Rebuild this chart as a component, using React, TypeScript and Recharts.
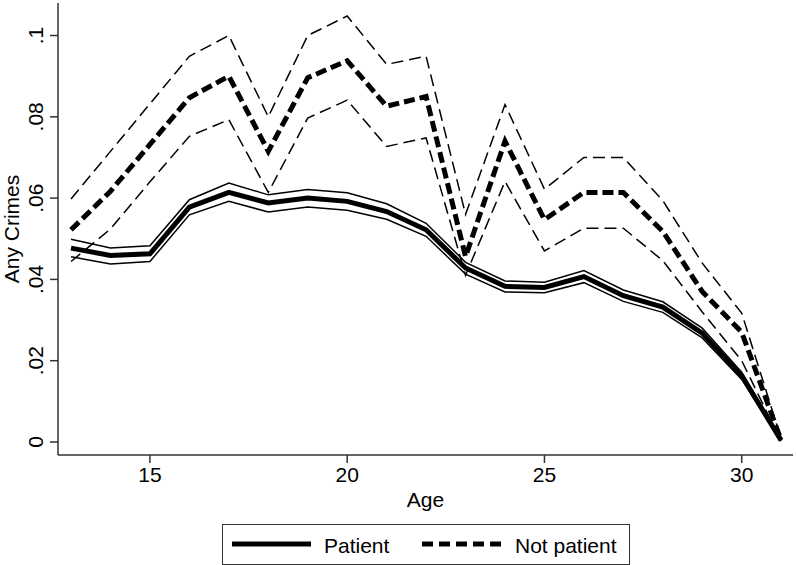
import { LineChart, Line, XAxis, YAxis, Legend } from "recharts";

const ages = [13, 14, 15, 16, 17, 18, 19, 20, 21, 22, 23, 24, 25, 26, 27, 28, 29, 30, 31];

const patientMean = [0.0477, 0.0459, 0.0463, 0.0578, 0.0614, 0.0588, 0.06, 0.0592, 0.0567, 0.0522, 0.0428, 0.0383, 0.038, 0.0407, 0.036, 0.0332, 0.0268, 0.0163, 0.0004];
const patientHi = [0.0499, 0.0477, 0.0483, 0.0596, 0.0637, 0.0608, 0.0621, 0.0613, 0.0586, 0.0538, 0.0442, 0.0396, 0.0393, 0.0422, 0.0374, 0.0345, 0.028, 0.0172, 0.0006];
const patientLo = [0.0456, 0.0438, 0.0444, 0.0559, 0.0592, 0.0566, 0.0578, 0.057, 0.0548, 0.0506, 0.0413, 0.0369, 0.0367, 0.0392, 0.0346, 0.0319, 0.0256, 0.0154, 0.0002];

const notMean = [0.0522, 0.0617, 0.0732, 0.0847, 0.09, 0.0715, 0.0896, 0.0938, 0.0826, 0.085, 0.0456, 0.074, 0.0547, 0.0614, 0.0614, 0.0518, 0.037, 0.027, 0.0004];
const notHi = [0.0598, 0.0715, 0.0832, 0.0949, 0.1, 0.08, 0.1, 0.1048, 0.0929, 0.0949, 0.056, 0.083, 0.0622, 0.07, 0.07, 0.0594, 0.044, 0.0317, 0.0008];
const notLo = [0.0444, 0.0524, 0.064, 0.0752, 0.0793, 0.0614, 0.0797, 0.0841, 0.0727, 0.0748, 0.041, 0.0641, 0.047, 0.0526, 0.0526, 0.0446, 0.032, 0.02, 0.0001];

const xTicks = [15, 20, 25, 30];
const yTicks = [0, 0.02, 0.04, 0.06, 0.08, 0.1];
const yTickLabels = ["0", ".02", ".04", ".06", ".08", ".1"];

const FONT = "'Liberation Sans', Arial, Helvetica, sans-serif";
const AXIS = "#333";

const data = ages.map((age, i) => ({
  age,
  pMean: patientMean[i],
  pHi: patientHi[i],
  pLo: patientLo[i],
  nMean: notMean[i],
  nHi: notHi[i],
  nLo: notLo[i],
}));

function XTick({ x, y, payload }: any) {
  return (
    <text x={x} y={y} dy="0.71em" textAnchor="middle" fontSize={21} fontFamily={FONT} fill="#000">
      {payload.value}
    </text>
  );
}

function YTick({ x, y, payload }: any) {
  const idx = yTicks.indexOf(payload.value);
  return (
    <text
      x={x}
      y={y}
      transform={`rotate(-90, ${x}, ${y})`}
      textAnchor="middle"
      fontSize={21}
      fontFamily={FONT}
      fill="#000"
    >
      {idx >= 0 ? yTickLabels[idx] : payload.value}
    </text>
  );
}

function LegendBox() {
  return (
    <svg width={408} height={41} style={{ display: "block" }}>
      <rect x={0.5} y={0.5} width={407} height={40} fill="#fff" stroke={AXIS} strokeWidth={1} />
      <line x1={10} y1={20} x2={89} y2={20} stroke="#000" strokeWidth={5} />
      <text x={102} y={28.5} fontSize={21} fontFamily={FONT} fill="#000">
        Patient
      </text>
      <line x1={200} y1={20} x2={279} y2={20} stroke="#000" strokeWidth={5} strokeDasharray="11 6" />
      <text x={293} y={28.5} fontSize={21} fontFamily={FONT} fill="#000">
        Not patient
      </text>
    </svg>
  );
}

export default function App() {
  return (
    <div style={{ position: "absolute", left: 0, top: 0, width: 796, height: 565, background: "#fff" }}>
      <LineChart width={796} height={565} data={data} margin={{ top: 3, right: 3, left: 0, bottom: 0 }}>
        <XAxis
          dataKey="age"
          type="number"
          domain={[12.67, 31.3]}
          allowDataOverflow
          ticks={xTicks}
          tick={<XTick />}
          tickSize={8}
          tickMargin={4}
          height={110}
          stroke={AXIS}
          strokeWidth={1.5}
          label={{ value: "Age", position: "insideTop", offset: 37, fontSize: 21, fontFamily: FONT, fill: "#000" }}
        />
        <YAxis
          type="number"
          domain={[-0.0032, 0.108]}
          allowDataOverflow
          ticks={yTicks}
          tick={<YTick />}
          tickSize={8}
          tickMargin={7}
          width={58}
          stroke={AXIS}
          strokeWidth={1.5}
          label={{
            value: "Any Crimes",
            angle: -90,
            position: "insideLeft",
            content: () => (
              <text
                x={19}
                y={229}
                transform="rotate(-90, 19, 229)"
                textAnchor="middle"
                fontSize={21}
                fontFamily={FONT}
                fill="#000"
              >
                Any Crimes
              </text>
            ),
          }}
        />
        <Legend
          layout="horizontal"
          verticalAlign="middle"
          align="center"
          wrapperStyle={{ left: 222, top: 524, width: 408, height: 41 }}
          content={() => <LegendBox />}
        />
        <Line dataKey="nHi" type="linear" stroke="#000" strokeWidth={1.5} strokeDasharray="12 6" dot={false} isAnimationActive={false} legendType="none" />
        <Line dataKey="nLo" type="linear" stroke="#000" strokeWidth={1.5} strokeDasharray="12 6" dot={false} isAnimationActive={false} legendType="none" />
        <Line dataKey="pHi" type="linear" stroke="#000" strokeWidth={1.5} dot={false} isAnimationActive={false} legendType="none" />
        <Line dataKey="pLo" type="linear" stroke="#000" strokeWidth={1.5} dot={false} isAnimationActive={false} legendType="none" />
        <Line dataKey="nMean" name="Not patient" type="linear" stroke="#000" strokeWidth={5} strokeDasharray="11 5" dot={false} isAnimationActive={false} />
        <Line dataKey="pMean" name="Patient" type="linear" stroke="#000" strokeWidth={5} dot={false} isAnimationActive={false} />
      </LineChart>
    </div>
  );
}
